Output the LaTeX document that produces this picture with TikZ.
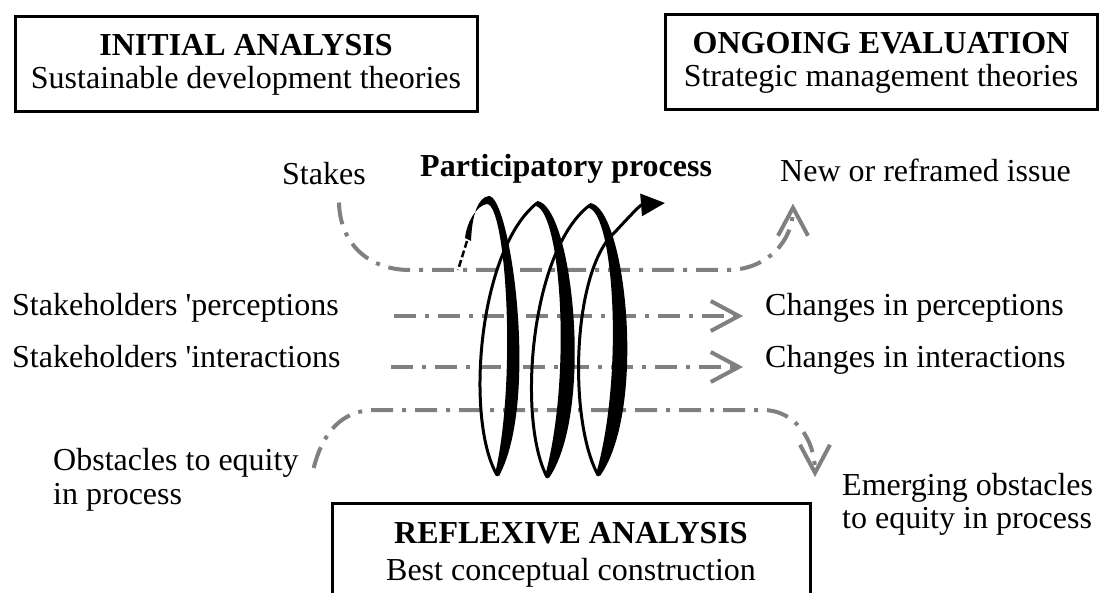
\documentclass[tikz,border=0pt]{standalone}
\usepackage{fontspec}
\setmainfont{Liberation Serif}
\usepackage{xcolor}
\definecolor{Col1}{RGB}{0,0,0}
\definecolor{Col2}{RGB}{128,128,128}
\usepackage{tikz}
\usetikzlibrary{arrows.meta}
\tikzstyle{Label}=[inner sep=0pt,anchor=base west,font=\fontsize{32}{34}\selectfont]
\tikzstyle{Box}=[draw=Col1,line width=3pt,align=center,inner sep=0pt,
minimum height=95pt,font=\fontsize{32}{33}\selectfont]
\tikzstyle{Flow}=[draw=Col2,line width=4pt,
dash pattern=on 22pt off 9pt on 4pt off 9pt,
-{Straight Barb[length=28pt,width=30pt]}]
\tikzstyle{Coil}=[draw=Col1,line width=3pt,line cap=round]
\tikzstyle{CoilThick}=[fill=Col1]

\begin{document}
\begin{tikzpicture}[x=1pt,y=-1pt]
        \useasboundingbox(0,0)rectangle(1099,593);
        \node[Box,minimum width=462pt](initial)at(246,64.5){\textbf{INITIAL ANALYSIS}\\Sustainable development theories};
        \node[Box,minimum width=432pt](ongoing)at(881,62.5){\textbf{ONGOING EVALUATION}\\Strategic management theories};
        \node[Label](stakes)at(282,185){Stakes};
        \node[Label,font=\fontsize{32}{34}\selectfont\bfseries](process)at(420,177){Participatory process};
        \node[Label](issue)at(780,182){New or reframed issue};
        \node[Label](percL)at(12,316){Stakeholders \textquotesingle perceptions};
        \node[Label](interL)at(12,367){Stakeholders \textquotesingle interactions};
        \node[Label](percR)at(765,316){Changes in perceptions};
        \node[Label](interR)at(765,367){Changes in interactions};
        \node[Label,align=left](obst)at(53,504){Obstacles to equity\\in process};
        \node[Label,align=left,font=\fontsize{32}{33}\selectfont](emerg)at(842,528){Emerging obstacles\\to equity in process};
        \node[Label,anchor=base,align=center,font=\fontsize{32}{37}\selectfont](reflexive)at(571,580){\textbf{REFLEXIVE ANALYSIS}\\Best conceptual construction};
        \draw[draw=Col1,line width=3pt](332,600)|-(810,503)--(810,600);
        % flows
        \draw[Flow]([xshift=15pt,yshift=-17pt]stakes.south)..controls(340,245)and(370,270)..(410,270)
            --(727,270)..controls(768,270)and(793,240)..([xshift=13pt,yshift=-21pt]issue.south west);
        \draw[Flow]([xshift=55pt]percL.base east)--([xshift=-22pt]percR.base west);
        \draw[Flow]([xshift=50pt]interL.base east)--([xshift=-22pt]interR.base west);
        \draw[Flow]([xshift=15pt,yshift=36pt]obst.base east)..controls(322,435)and(340,410)..(375,410)
            --(763,410)..controls(795,410)and(815,440)..([xshift=-27pt,yshift=51pt]emerg.base west);
        % coil
        \fill[CoilThick](471,241)..controls(472,215)and(478,197)..(489,196)
            ..controls(510,196)and(540,400)..(499,476)
            --(495,474)..controls(517,380)and(506,205)..(487,204)
            ..controls(478,205)and(467,220)..(465,238)--cycle;
        \fill[CoilThick](537,201)..controls(572,204)and(595,410)..(549,478)
            --(545,476)..controls(572,377)and(561,213)..(536,206)--cycle;
        \fill[CoilThick](590,203)..controls(625,206)and(648,408)..(600,476)
            --(596,474)..controls(624,377)and(614,215)..(589,208)--cycle;
        \draw[Coil](497,475)..controls(465,420)and(478,250)..(537,203);
        \draw[Coil](547,477)..controls(517,420)and(530,250)..(590,205);
        \draw[Coil,-{Triangle[length=24pt,width=22pt]}](598,475)..controls(568,420)and(572,270)..(615,232)
            ..controls(628,218)and(640,205)..(665,203);
        \draw[draw=Col1,line width=2.5pt,dash pattern=on 7pt off 3pt](467,241)--(458,270);
    \end{tikzpicture}
\end{document}
